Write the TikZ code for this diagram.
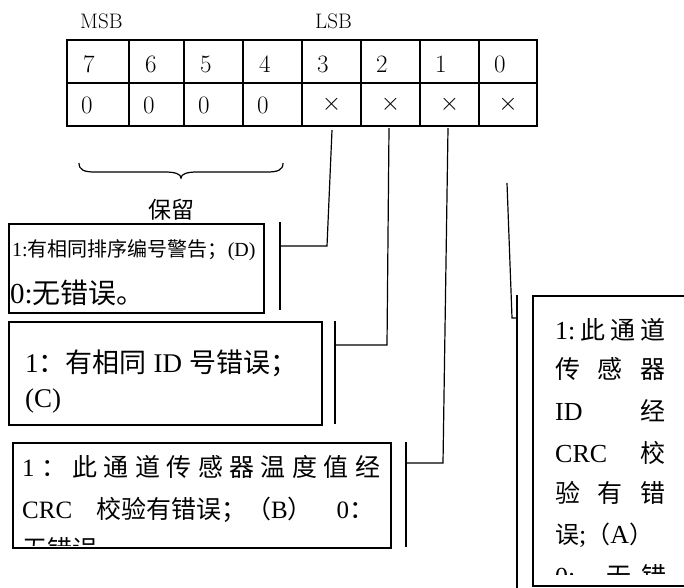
\documentclass[tikz,border=0pt]{standalone}
\usepackage{fontspec}
\newfontfamily\tnr{Liberation Serif}
\newfontfamily\cjk{Noto Sans CJK SC}
\newcommand\fs[1]{\fontsize{#1}{#1}\selectfont}
\begin{document}
\begin{tikzpicture}[x=1pt,y=-1pt,
  tbl/.style={line width=2pt},
  conn/.style={line width=1.2pt},
  box/.style={draw, line width=1.6pt, anchor=north west, inner sep=0pt},
  txt/.style={anchor=base west, inner sep=0pt},
  dig/.style={anchor=base west, inner sep=0pt, font=\fs{25}},
  crs/.style={anchor=base, inner sep=0pt, font=\fs{24}},
  hdr/.style={anchor=base west, inner sep=0pt, font=\fs{21}}]
\clip (0,0) rectangle (684,587);
% header
\node[hdr] (msb) at (80,28) {MSB};
\node[hdr] (lsb) at (315,28) {LSB};
% table
\draw[tbl] (67,40) rectangle (537,126);
\draw[tbl] (67,83) -- (537,83);
\foreach \x in {129,184,243,302,361,420,479} \draw[tbl] (\x,40) -- (\x,126);
\node[dig] (d7) at (83,72) {7};
\node[dig] (d6) at (145,72) {6};
\node[dig] (d5) at (200,72) {5};
\node[dig] (d4) at (259,72) {4};
\node[dig] (d3) at (317,72) {3};
\node[dig] (d2) at (376,72) {2};
\node[dig] (d1) at (435,72) {1};
\node[dig] (d0) at (494,72) {0};
\node[dig] (v7) at (81,113) {0};
\node[dig] (v6) at (143,113) {0};
\node[dig] (v5) at (198,113) {0};
\node[dig] (v4) at (257,113) {0};
\node[crs] (v3) at (331.5,110) {$\times$};
\node[crs] (v2) at (390.5,110) {$\times$};
\node[crs] (v1) at (449.5,110) {$\times$};
\node[crs] (v0) at (508,110) {$\times$};
% brace
\draw[line width=1.2pt] (79,163) .. controls (79,170) and (84,172) .. (95,172) -- (165,172)
  .. controls (175,172) and (181,174) .. (181,178)
  .. controls (181,174) and (187,172) .. (197,172) -- (267,172)
  .. controls (278,172) and (283,170) .. (283,163);
\node[inner sep=0pt, font=\cjk\fs{23}] (res) at (171,210) {保留};
% boxes
\node[box, minimum width=255pt, minimum height=89pt] (bxD) at (8,223) {};
\node[box, minimum width=313pt, minimum height=103pt] (bxC) at (8,321) {};
\node[box, minimum width=378pt, minimum height=105pt] (bxB) at (12,442) {};
\node[box, minimum width=220pt, minimum height=290pt] (bxA) at (532,295) {};
% box D text
\node[txt] (tD1) at (12,256) {{\tnr\fs{20}1:}{\cjk\fs{20}有相同排序编号警告；}{\tnr\fs{20}(D)}};
\node[txt] (tD2) at (10,303.5) {{\tnr\fs{29}0:}{\cjk\fs{28}无错误。}};
% box C text
\node[txt] (tC1) at (25,372) {\makebox[272pt][s]{\tnr\fs{27}1{\cjk\fs{27}：有相同} ID {\cjk\fs{27}号错误；}}};
\node[txt] (tC2) at (25,407) {\tnr\fs{27}(C)};
% box B text
\node[txt] (tB1) at (22,476.5) {\makebox[358pt][s]{\tnr\fs{25}1\hfill\cjk\fs{25}：\hfill 此\hfill 通\hfill 道\hfill 传\hfill 感\hfill 器\hfill 温\hfill 度\hfill 值\hfill 经}};
\node[txt] (tB2) at (22,518) {\makebox[352pt][s]{\tnr\fs{25}CRC\hfill{\cjk\fs{25}校验有错误；（}B{\cjk\fs{25}）}\hfill 0{\cjk\fs{25}：}}};
\begin{scope}
\clip (0,0) rectangle (684,545);
\node[txt] (tB3) at (22,558) {\cjk\fs{25}无错误};
\end{scope}
% box A text
\node[txt] (tA1) at (555,339.5) {\makebox[110pt][s]{\tnr\fs{26}1:\hfill\cjk\fs{25}此\hfill 通\hfill 道}};
\node[txt] (tA2) at (555,378.5) {\makebox[110pt][s]{\cjk\fs{25}传\hfill 感\hfill 器}};
\node[txt] (tA3) at (555,420.5) {\makebox[110pt][s]{\tnr\fs{26}ID\hfill\cjk\fs{25}经}};
\node[txt] (tA4) at (555,462.5) {\makebox[110pt][s]{\tnr\fs{26}CRC\hfill\cjk\fs{25}校}};
\node[txt] (tA5) at (555,502.5) {\makebox[110pt][s]{\cjk\fs{25}验\hfill 有\hfill 错}};
\node[txt] (tA6) at (555,543.5) {{\cjk\fs{24}误}{\tnr\fs{26};}{\cjk\fs{24}（}{\tnr\fs{26}A}{\cjk\fs{24}）}};
\begin{scope}
\clip (0,0) rectangle (684,574);
\node[txt] (tA7) at (555,585.5) {\makebox[111pt][s]{\tnr\fs{26}0:\hfill\cjk\fs{25}无\hspace{10pt}错}};
\end{scope}
% connectors
\coordinate (c3) at (332,130); \coordinate (k3) at (327,246); \coordinate (t3) at (280,246);
\coordinate (bD1) at (280,222); \coordinate (bD2) at (280,310);
\coordinate (c2) at (389,128); \coordinate (k2) at (387,345); \coordinate (t2) at (335,345);
\coordinate (bC1) at (335,321); \coordinate (bC2) at (335,424);
\coordinate (c1) at (448,128); \coordinate (k1) at (443,463); \coordinate (t1) at (406,463);
\coordinate (bB1) at (406,442); \coordinate (bB2) at (406,547);
\coordinate (c0) at (507,183); \coordinate (k0) at (512,318); \coordinate (t0) at (517,318);
\coordinate (bA1) at (517,295); \coordinate (bA2) at (517,600);
\draw[conn] (c3) -- (k3) -- (t3);
\draw[conn] (bD1) -- (bD2);
\draw[conn] (c2) -- (k2) -- (t2);
\draw[conn] (bC1) -- (bC2);
\draw[conn] (c1) -- (k1) -- (t1);
\draw[conn] (bB1) -- (bB2);
\draw[conn] (c0) -- (k0) -- (t0);
\draw[conn] (bA1) -- (bA2);
\end{tikzpicture}
\end{document}
